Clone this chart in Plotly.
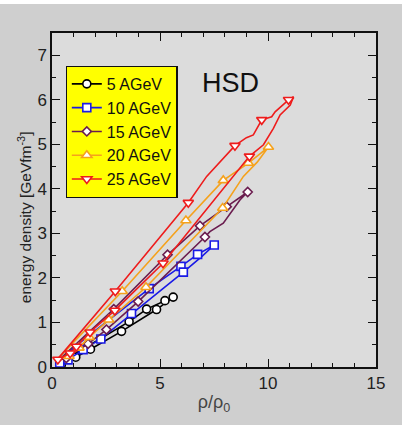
import plotly.graph_objects as go

# ---- data ----
labels = ["5 AGeV", "10 AGeV", "15 AGeV", "20 AGeV", "25 AGeV"]

# 5 AGeV
x5_line = [0.3, 1.5, 3.57, 4.38, 5.23, 5.61, 4.84, 3.22, 1.78, 1.1, 0.43, 0.3]
y5_line = [0.08, 0.42, 1.02, 1.3, 1.49, 1.57, 1.29, 0.8, 0.4, 0.22, 0.05, 0.08]
x5_mk = [3.57, 4.38, 5.23, 5.61, 4.84, 3.22, 1.78, 1.1, 0.43]
y5_mk = [1.02, 1.3, 1.49, 1.57, 1.29, 0.8, 0.4, 0.22, 0.05]

# 10 AGeV
x10_line = [0.3, 1.28, 3.14, 4.5, 5.97, 6.74, 7.51, 6.93, 6.08, 3.68, 2.26, 1.44, 0.74, 0.36, 0.3]
y10_line = [0.12, 0.54, 1.25, 1.76, 2.26, 2.53, 2.74, 2.48, 2.13, 1.2, 0.63, 0.39, 0.16, 0.09, 0.12]
x10_mk = [4.5, 5.97, 6.74, 7.51, 6.08, 3.68, 2.26, 1.44, 0.74, 0.36]
y10_mk = [1.76, 2.26, 2.53, 2.74, 2.13, 1.2, 0.63, 0.39, 0.16, 0.09]

# 15 AGeV
x15_line = [0.3, 2.86, 5.35, 6.85, 8.09, 9.06, 8.7, 7.93, 7.31, 7.08, 3.99, 2.52, 1.67, 0.66, 0.3]
y15_line = [0.15, 1.3, 2.52, 3.17, 3.6, 3.93, 3.75, 3.23, 3.04, 2.92, 1.47, 0.84, 0.52, 0.2, 0.15]
x15_mk = [2.86, 5.35, 6.85, 8.09, 9.06, 7.08, 3.99, 2.52, 1.67, 0.66]
y15_mk = [1.3, 2.52, 3.17, 3.6, 3.93, 2.92, 1.47, 0.84, 0.52, 0.2]

# 20 AGeV
x20_line = [0.3, 3.25, 6.2, 7.93, 9.09, 10.02, 9.5, 8.86, 7.9, 6.0, 4.35, 2.63, 1.72, 1.25, 0.79, 0.3]
y20_line = [0.2, 1.7, 3.29, 4.19, 4.58, 4.94, 4.6, 4.28, 3.57, 2.62, 1.79, 1.06, 0.67, 0.43, 0.24, 0.2]
x20_mk = [3.25, 6.2, 7.93, 9.09, 10.02, 7.9, 4.35, 2.63, 1.72, 1.25, 0.79]
y20_mk = [1.7, 3.29, 4.19, 4.58, 4.94, 3.57, 1.79, 1.06, 0.67, 0.43, 0.24]

# 25 AGeV
x25_line = [0.23, 2.93, 6.31, 7.16, 8.47, 9.0, 9.32, 9.71, 10.17, 10.33, 10.95, 11.18,
            11.03, 10.56, 10.25, 9.79, 9.14, 6.0, 5.14, 2.91, 1.76, 1.13, 0.84, 0.23]
y25_line = [0.16, 1.7, 3.69, 4.28, 4.97, 5.15, 5.21, 5.55, 5.62, 5.73, 6.0, 6.07,
            5.88, 5.66, 5.36, 4.99, 4.73, 2.85, 2.33, 1.27, 0.78, 0.46, 0.31, 0.16]
x25_mk = [0.27, 0.84, 1.13, 1.76, 2.91, 2.93, 5.14, 6.31, 8.47, 9.14, 9.71, 10.95]
y25_mk = [0.17, 0.31, 0.46, 0.78, 1.27, 1.7, 2.33, 3.69, 4.97, 4.73, 5.55, 6.0]

series = [
    (labels[0], x5_line, y5_line, x5_mk, y5_mk, "#000000", "circle", 8),
    (labels[1], x10_line, y10_line, x10_mk, y10_mk, "#1a1ae6", "square", 8),
    (labels[2], x15_line, y15_line, x15_mk, y15_mk, "#6b1d4f", "diamond", 7),
    (labels[3], x20_line, y20_line, x20_mk, y20_mk, "#f5a21c", "triangle-up", 9),
    (labels[4], x25_line, y25_line, x25_mk, y25_mk, "#ee1c1c", "triangle-down", 9),
]

FONT = "Liberation Sans, Arial, Helvetica, sans-serif"

fig = go.Figure()
for name, xl, yl, xm, ym, col, sym, sz in series:
    fig.add_trace(go.Scatter(x=xl, y=yl, mode="lines", line=dict(color=col, width=1.6),
                             showlegend=False, legendgroup=name, hoverinfo="skip"))
    fig.add_trace(go.Scatter(x=xm, y=ym, mode="markers", showlegend=False, legendgroup=name,
                             marker=dict(symbol=sym, size=sz, color="white",
                                         line=dict(color=col, width=1.6))))
    fig.add_trace(go.Scatter(x=[None], y=[None], mode="lines+markers", name=name,
                             legendgroup=name, line=dict(color=col, width=1.6),
                             marker=dict(symbol=sym, size=sz, color="white",
                                         line=dict(color=col, width=1.6))))

fig.add_annotation(x=8.25, y=6.38, text="HSD", showarrow=False,
                   font=dict(family=FONT, size=27, color="#111111"))

# y-axis title as a rotated annotation (placed like the reference)
fig.add_annotation(xref="paper", yref="paper", x=-0.085, y=0.45, text="energy density [GeVfm<sup>-3</sup>]",
                   textangle=-90, showarrow=False, xanchor="center", yanchor="middle",
                   font=dict(family=FONT, size=15.5, color="#222222"))

# grey panel (with a thin white strip at top/right) and the lighter plot area
fig.add_shape(type="rect", xref="paper", yref="paper", x0=-0.17, x1=1.0802, y0=-0.18, y1=1.0868,
              fillcolor="#cfcfcf", line=dict(width=0), layer="below")
fig.add_shape(type="rect", xref="paper", yref="paper", x0=0, x1=1, y0=0, y1=1,
              fillcolor="#dcdcdc", line=dict(width=0), layer="below")

axis_common = dict(showline=True, linecolor="#111111", linewidth=1.5, mirror="ticks",
                   ticks="inside", ticklen=8, tickwidth=1.3, tickcolor="#111111",
                   showgrid=False, zeroline=False,
                   tickfont=dict(family=FONT, size=17, color="#222222"))

fig.update_xaxes(range=[0, 15], tickvals=[0, 5, 10, 15],
                 minor=dict(dtick=1, ticks="inside", ticklen=4, tickcolor="#111111", showgrid=False),
                 title=dict(text="ρ/ρ<sub>0</sub>", font=dict(family=FONT, size=18, color="#444444"),
                            standoff=3),
                 **axis_common)
fig.update_yaxes(range=[0, 7.5], tickvals=[0, 1, 2, 3, 4, 5, 6, 7],
                 minor=dict(dtick=0.5, ticks="inside", ticklen=4, tickcolor="#111111", showgrid=False),
                 **axis_common)

fig.update_layout(
    width=406, height=425,
    margin=dict(l=52, r=30, t=33, b=58, autoexpand=False),
    paper_bgcolor="#ffffff", plot_bgcolor="#dcdcdc",
    font=dict(family=FONT),
    legend=dict(x=0.042, y=0.902, xanchor="left", yanchor="top",
                bgcolor="#ffff00", bordercolor="#111111", borderwidth=1.2,
                font=dict(family=FONT, size=16, color="#111111"),
                tracegroupgap=0, itemwidth=30),
    showlegend=True,
)

fig.write_html("out.html")
